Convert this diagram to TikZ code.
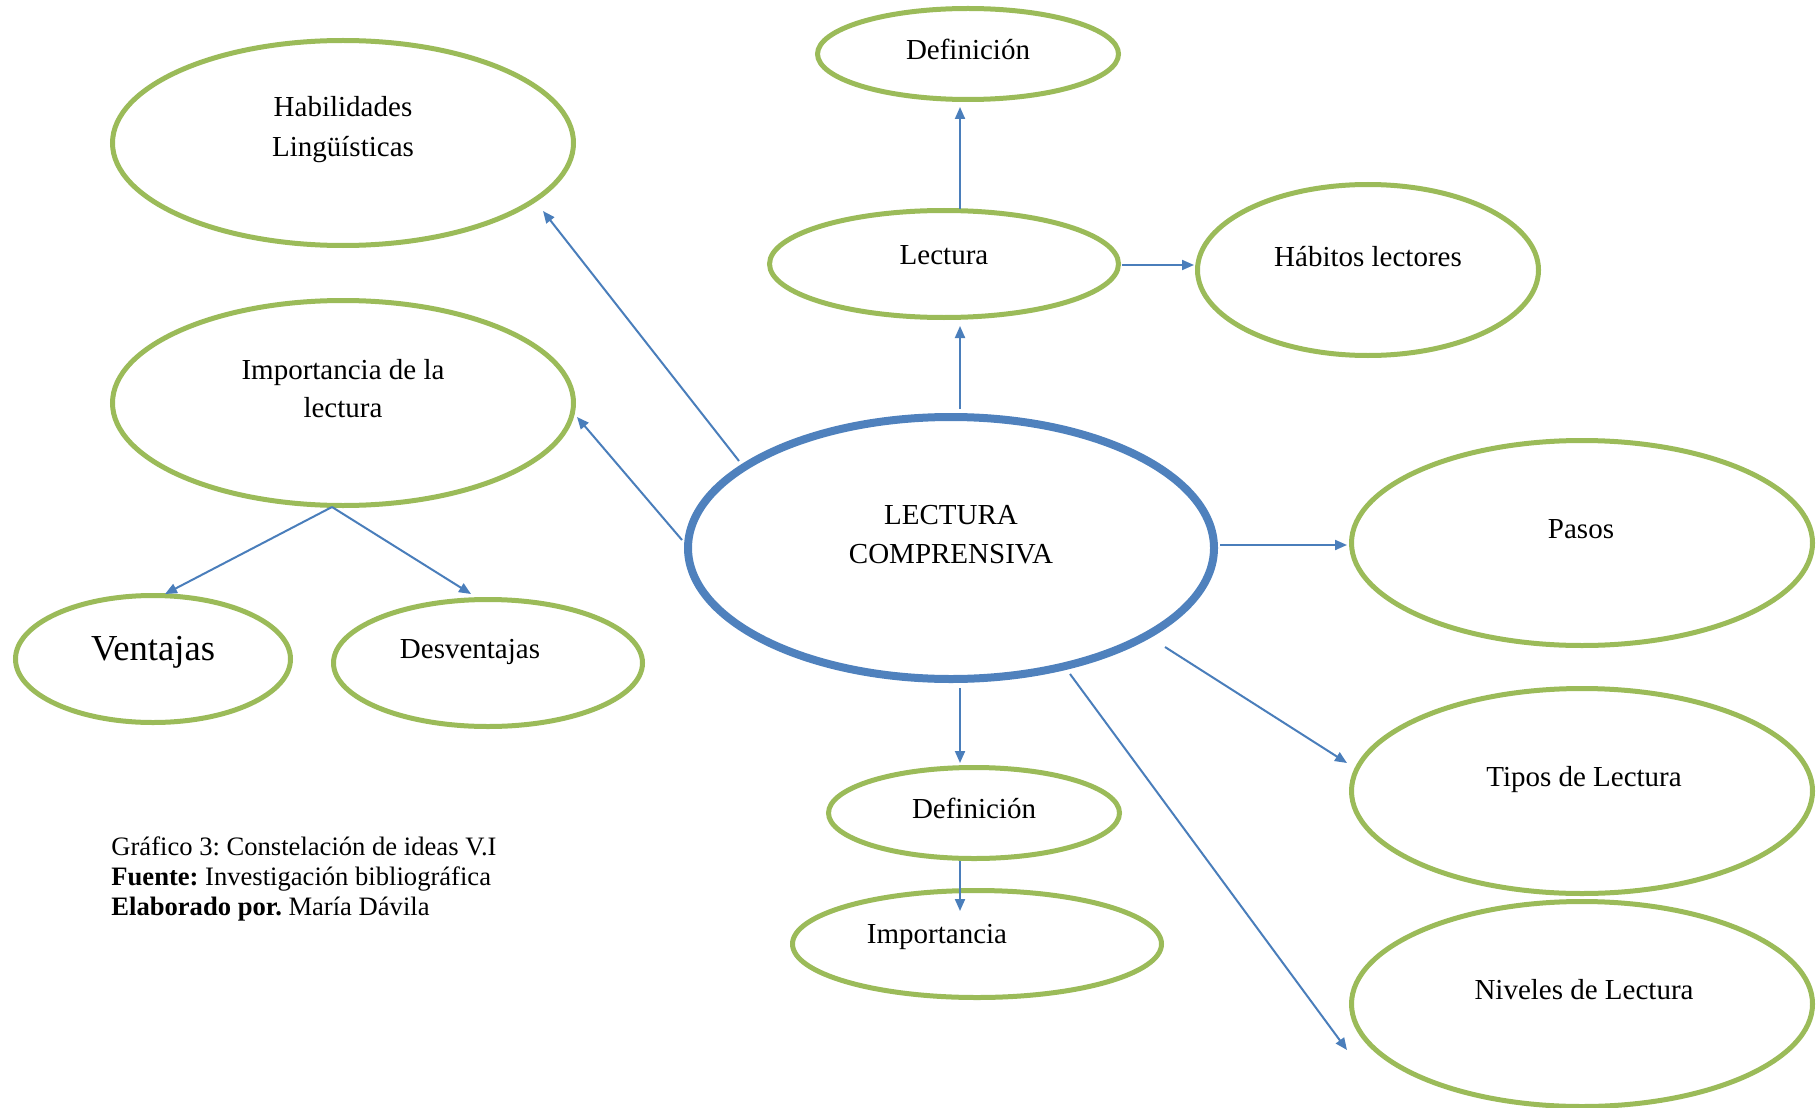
\documentclass[tikz,border=0pt]{standalone}
\usepackage{fontspec}
\setmainfont{Liberation Serif}
\frenchspacing
\usetikzlibrary{shapes.geometric,arrows.meta}
\definecolor{grn}{HTML}{9BBB59}
\definecolor{blu}{HTML}{4F81BD}
\definecolor{arr}{HTML}{4A7EBB}
\begin{document}
\begin{tikzpicture}[x=0.5pt,y=-0.5pt,
  gell/.style={ellipse, draw=grn, line width=2.5pt, inner sep=0pt},
  bell/.style={ellipse, draw=blu, line width=4pt, inner sep=0pt},
  lbl/.style={anchor=base, font=\fontsize{14.5}{20}\selectfont, inner sep=0pt},
  captxt/.style={anchor=base west, font=\fontsize{13.3}{15}\selectfont, inner sep=0pt},
  conn/.style={draw=arr, line width=1pt, -{Triangle[length=6pt,width=5pt]}}]
\useasboundingbox (0,0) rectangle (1818,1107);
% ellipses
\node[gell, minimum width=150.5pt, minimum height=45.5pt] (deft) at (968,54) {};
\node[gell, minimum width=230.5pt, minimum height=102.5pt] (hab) at (343,143) {};
\node[gell, minimum width=174.5pt, minimum height=53.5pt] (lec) at (944,264) {};
\node[gell, minimum width=170.5pt, minimum height=85.5pt] (hbt) at (1368,270) {};
\node[gell, minimum width=230.5pt, minimum height=102.5pt] (imp) at (343,403) {};
\node[bell, minimum width=263pt, minimum height=131pt] (cen) at (951,548) {};
\node[gell, minimum width=230.5pt, minimum height=102.5pt] (pas) at (1582,543) {};
\node[gell, minimum width=137.5pt, minimum height=63.5pt] (ven) at (153,659) {};
\node[gell, minimum width=154.5pt, minimum height=63.5pt] (des) at (488,663) {};
\node[gell, minimum width=230.5pt, minimum height=102.5pt] (tip) at (1582,791) {};
\node[gell, minimum width=145.5pt, minimum height=45.5pt] (defb) at (974,813) {};
\node[gell, minimum width=184.5pt, minimum height=53.5pt] (impb) at (977,944) {};
\node[gell, minimum width=230.5pt, minimum height=102.5pt] (niv) at (1582,1004) {};
% labels
\node[lbl] (tdeft) at (968,60) {Definición};
\node[lbl] (thab1) at (343,117) {Habilidades};
\node[lbl] (thab2) at (343,157) {Lingüísticas};
\node[lbl] (tlec) at (944,264) {Lectura};
\node[lbl] (thbt) at (1368,266) {Hábitos lectores};
\node[lbl] (timp1) at (343,379) {Importancia de la};
\node[lbl] (timp2) at (343,417) {lectura};
\node[lbl] (tcen1) at (951,524) {LECTURA};
\node[lbl] (tcen2) at (951,563) {COMPRENSIVA};
\node[lbl] (tpas) at (1581,538) {Pasos};
\node[lbl, font=\fontsize{18.3}{22}\selectfont] (tven) at (153,660) {Ventajas};
\node[lbl] (tdes) at (470,658) {Desventajas};
\node[lbl] (ttip) at (1584,786) {Tipos de Lectura};
\node[lbl] (tdefb) at (974,818) {Definición};
\node[lbl] (timpb) at (937,943) {Importancia};
\node[lbl] (tniv) at (1584,999) {Niveles de Lectura};
% caption
\node[captxt] (c1) at (111,855) {Gráfico 3: Constelación de ideas V.I};
\node[captxt] (c2) at (111,885) {\textbf{Fuente:} Investigación bibliográfica};
\node[captxt] (c3) at (111,915) {\textbf{Elaborado por.} María Dávila};
% connector end points
\coordinate (a1s) at (739,461); \coordinate (a1e) at (543,211);
\coordinate (a2s) at (682,540); \coordinate (a2e) at (577,417);
\coordinate (a3s) at (960,409); \coordinate (a3e) at (960,326);
\coordinate (a4s) at (960,209); \coordinate (a4e) at (960,107);
\coordinate (a5s) at (1122,265); \coordinate (a5e) at (1194,265);
\coordinate (a6s) at (1220,545); \coordinate (a6e) at (1347,545);
\coordinate (a7s) at (1165,647); \coordinate (a7e) at (1347,763);
\coordinate (a8s) at (1070,674); \coordinate (a8e) at (1347,1050);
\coordinate (a9s) at (960,688); \coordinate (a9e) at (960,763);
\coordinate (a10s) at (960,861); \coordinate (a10e) at (960,911);
\coordinate (a11s) at (332,507); \coordinate (a11e) at (165,594);
\coordinate (a12e) at (471,594);
% connectors
\draw[conn] (a1s) -- (a1e);
\draw[conn] (a2s) -- (a2e);
\draw[conn] (a3s) -- (a3e);
\draw[conn] (a4s) -- (a4e);
\draw[conn] (a5s) -- (a5e);
\draw[conn] (a6s) -- (a6e);
\draw[conn] (a7s) -- (a7e);
\draw[conn] (a8s) -- (a8e);
\draw[conn] (a9s) -- (a9e);
\draw[conn] (a10s) -- (a10e);
\draw[conn] (a11s) -- (a11e);
\draw[conn] (a11s) -- (a12e);
\end{tikzpicture}
\end{document}
